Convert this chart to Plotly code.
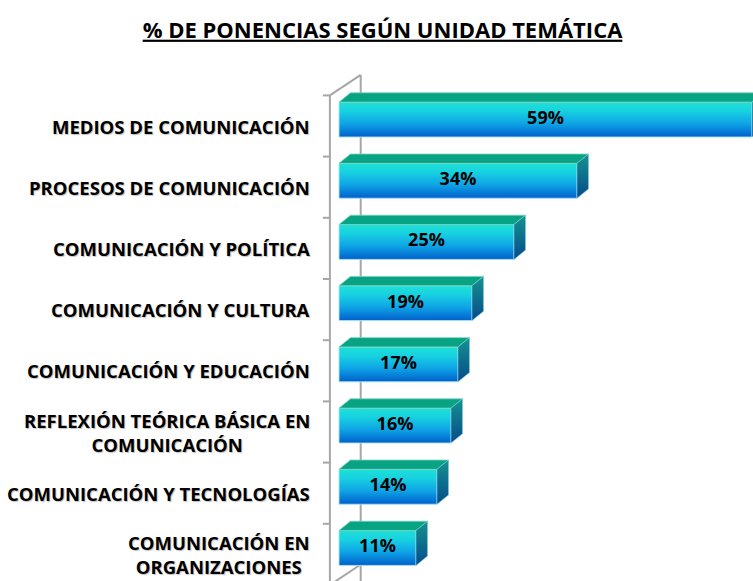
import plotly.graph_objects as go

# ---- data ----
categories = [
    "MEDIOS DE COMUNICACIÓN",
    "PROCESOS DE COMUNICACIÓN",
    "COMUNICACIÓN Y POLÍTICA",
    "COMUNICACIÓN Y CULTURA",
    "COMUNICACIÓN Y EDUCACIÓN",
    "REFLEXIÓN TEÓRICA BÁSICA EN<br>COMUNICACIÓN",
    "COMUNICACIÓN Y TECNOLOGÍAS",
    "COMUNICACIÓN EN<br>ORGANIZACIONES",
]
values = [59, 34, 25, 19, 17, 16, 14, 11]
value_labels = [f"{v}%" for v in values]
title_text = "% DE PONENCIAS SEGÚN UNIDAD TEMÁTICA"

# ---- styling / geometry constants ----
FONT = "Open Sans"
FT, FB = -0.39, 0.18        # front face top/bottom relative to category index
DX, DY = 1.64, -0.152       # bar depth offset (data units)
WX, WDX, WDY = -1.3, 4.4, -0.335   # wall front x, wall depth offset
GRAY = "#a6a6a6"

fig = go.Figure()

n = len(values)
for i, v in enumerate(values):
    yt, yb = i + FT, i + FB
    # front face with vertical gradient
    fig.add_trace(go.Scatter(
        x=[0, v, v, 0, 0], y=[yt, yt, yb, yb, yt],
        mode="lines", fill="toself",
        line=dict(color="rgba(170,230,245,0.9)", width=1),
        fillgradient=dict(type="vertical", start=yt, stop=yb,
                          colorscale=[[0, "#1fe0d6"], [0.25, "#17d2e0"],
                                      [0.6, "#0fa6e6"], [1, "#0060cc"]]),
        hoverinfo="skip", showlegend=False))
    # top face
    fig.add_trace(go.Scatter(
        x=[0, DX, v + DX, v, 0], y=[yt, yt + DY, yt + DY, yt, yt],
        mode="lines", fill="toself", fillcolor="#07a383",
        line=dict(color="rgba(120,210,190,0.8)", width=1),
        hoverinfo="skip", showlegend=False))
    # right side face
    fig.add_trace(go.Scatter(
        x=[v, v + DX, v + DX, v, v], y=[yt, yt + DY, yb + DY, yb, yt],
        mode="lines", fill="toself",
        line=dict(color="rgba(120,200,220,0.6)", width=1),
        fillgradient=dict(type="vertical", start=yt + DY, stop=yb,
                          colorscale=[[0, "#15928e"], [1, "#064a8c"]]),
        hoverinfo="skip", showlegend=False))

# value labels
fig.add_trace(go.Scatter(
    x=[v / 2 for v in values], y=[i + (FT + FB) / 2 for i in range(n)],
    mode="text", text=value_labels,
    textfont=dict(family=FONT, size=18, color="#000000", weight="bold"),
    hoverinfo="skip", showlegend=False))

shapes = []
# wall: front line, back line, top & bottom diagonals, ticks
shapes.append(dict(type="line", xref="x", yref="y", x0=WX, x1=WX, y0=-0.5, y1=n + 0.5,
                   line=dict(color=GRAY, width=2), layer="below"))
shapes.append(dict(type="line", xref="x", yref="y", x0=WX + WDX, x1=WX + WDX,
                   y0=-0.5 + WDY, y1=n + 0.5, line=dict(color=GRAY, width=2), layer="below"))
shapes.append(dict(type="line", xref="x", yref="y", x0=WX, x1=WX + WDX,
                   y0=-0.5, y1=-0.5 + WDY, line=dict(color=GRAY, width=2), layer="below"))
shapes.append(dict(type="line", xref="x", yref="y", x0=WX, x1=WX + WDX,
                   y0=n - 0.5, y1=n - 0.5 + WDY, line=dict(color=GRAY, width=2), layer="below"))
for k in range(n + 1):
    shapes.append(dict(type="line", xref="x", yref="y", x0=WX - 1.0, x1=WX,
                       y0=k - 0.5, y1=k - 0.5, line=dict(color=GRAY, width=2), layer="below"))

annotations = []
for i, c in enumerate(categories):
    annotations.append(dict(
        x=0, xref="paper", xanchor="right", xshift=-3,
        y=i, yref="y", yanchor="middle",
        text=c, showarrow=False, align="center",
        font=dict(family=FONT, size=18.5, color="#000000", weight="bold",
                  shadow="1px 1px 1px rgba(0,0,0,0.25)")))

fig.update_layout(
    width=753, height=581,
    margin=dict(l=315, r=0, t=60, b=0),
    paper_bgcolor="white", plot_bgcolor="white",
    title=dict(text=f"<u>{title_text}</u>", x=0.508, xref="container", xanchor="center",
               y=1 - 30 / 581, yref="container", yanchor="middle",
               font=dict(family=FONT, size=22, color="#000000", weight="bold")),
    xaxis=dict(range=[(315 - 339) / 7.0, (753 - 339) / 7.0], visible=False, fixedrange=True),
    yaxis=dict(range=[(581 - 126) / 61.2, (60 - 126) / 61.2], visible=False, fixedrange=True),
    shapes=shapes, annotations=annotations,
    showlegend=False,
)

fig.write_html("out.html", config={"displayModeBar": False},
               post_script="document.body.style.margin='0';")
